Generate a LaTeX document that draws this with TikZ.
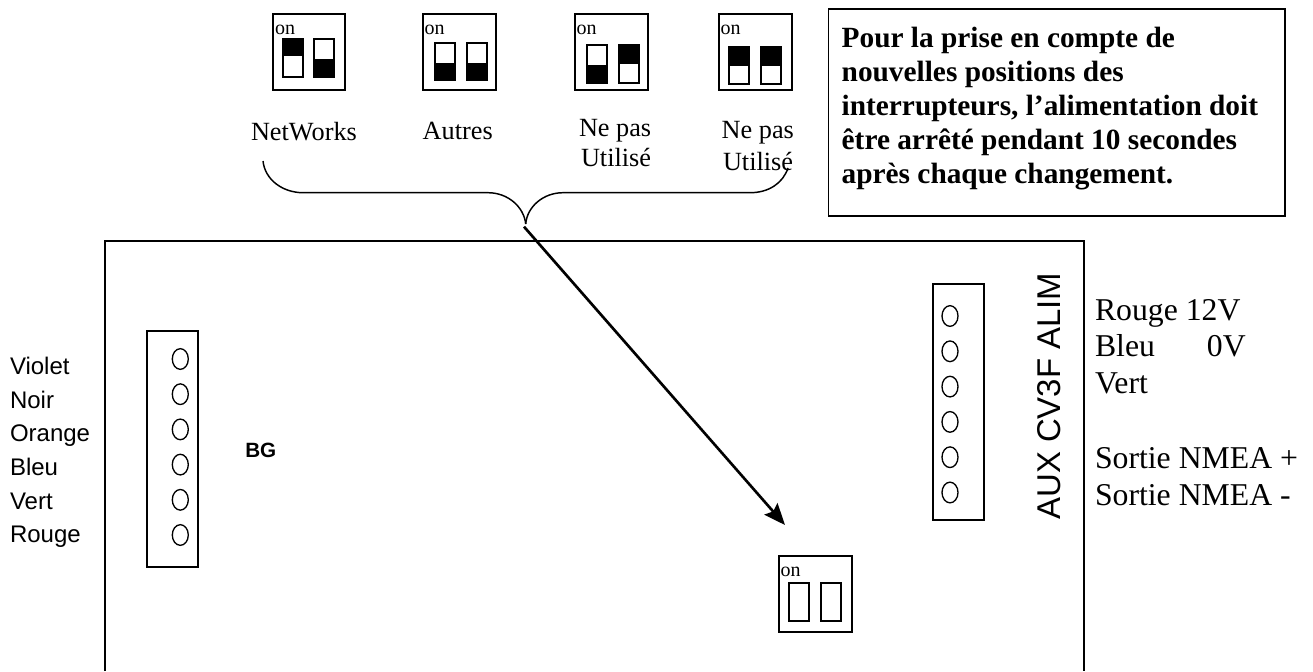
\documentclass[tikz,border=0pt]{standalone}
\usepackage{fontspec}
\setmainfont{Liberation Serif}
\setsansfont{Liberation Sans}
\usetikzlibrary{arrows.meta,shapes.geometric}
\tikzset{
  wire/.style={line width=1.1pt},
  frameline/.style={line width=1.3pt},
  txt/.style={anchor=base west,inner sep=0pt,outer sep=0pt,font=\fontsize{19.7}{24}\selectfont},
  ontxt/.style={anchor=base west,inner sep=0pt,outer sep=0pt,font=\fontsize{15}{18}\selectfont},
  wiretxt/.style={anchor=base west,inner sep=0pt,outer sep=0pt,font=\fontsize{23.8}{28}\selectfont},
  listtxt/.style={anchor=base west,inner sep=0pt,outer sep=0pt,font=\sffamily\fontsize{18}{22}\selectfont},
  notetxt/.style={anchor=base west,inner sep=0pt,outer sep=0pt,font=\bfseries\fontsize{22}{26}\selectfont},
  pin/.style={draw,line width=1pt,ellipse,minimum width=12pt,minimum height=15.5pt,inner sep=0pt}
}
% one switch: x left, y top, y bottom, y start and end of the black part
\newcommand{\slider}[5]{%
  \fill (#1,#4) rectangle (#1+20,#5);%
  \draw [frameline] (#1,#2) rectangle (#1+20,#3);%
}
\begin{document}
\begin{tikzpicture}[x=0.75pt,y=-0.75pt]
\useasboundingbox (0,0) rectangle (1313,671);

% Drawing the switch boxes on top
\draw [frameline] (272.7,14) rectangle (345,90);%
\node (on1) [ontxt] at (275,34) {on};%
\slider{282.7}{39}{76.7}{39}{56}%
\slider{314}{39}{76.7}{59}{76.7}%
\draw [frameline] (423,14) rectangle (496,90);%
\node (on2) [ontxt] at (424.5,34) {on};%
\slider{434.7}{43}{80}{63}{80}%
\slider{466.7}{43}{80}{63}{80}%
\draw [frameline] (575,14) rectangle (647.7,90);%
\node (on3) [ontxt] at (576.7,34) {on};%
\slider{586.7}{45}{82.7}{65}{82.7}%
\slider{618.7}{45}{82.7}{45}{64}%
\draw [frameline] (719,14) rectangle (791.7,90);%
\node (on4) [ontxt] at (720.7,34) {on};%
\slider{729}{47}{84}{47}{65.7}%
\slider{760.7}{47}{84}{47}{65.7}%

% Drawing the names of the positions
\node (networks) [txt] at (251,140) {NetWorks};%
\node (autres) [txt] at (422.7,139) {Autres};%
\node (nepasa) [txt] at (579,136.7) {Ne pas};%
\node (utilisea) [txt] at (581,166.7) {Utilisé};%
\node (nepasb) [txt] at (721.7,138) {Ne pas};%
\node (utiliseb) [txt] at (723,170) {Utilisé};%

% Drawing the brace
\coordinate (braceleft) at (263,161);%
\coordinate (braceright) at (788,168);%
\coordinate (bracetip) at (525.7,224);%
\coordinate (arrowstart) at (524,226.7);%
\coordinate (arrowend) at (785,525);%
\draw [wire] (braceleft) .. controls (265,180) and (283,192.7) .. (303,192.7) -- (488,192.7) .. controls (508,192.7) and (524,207) .. (bracetip);%
\draw [wire] (bracetip) .. controls (527,207) and (543,192.7) .. (563,192.7) -- (750,192.7) .. controls (769,192.7) and (783,183) .. (braceright);%

% Drawing the note
\draw [frameline] (828.5,9) rectangle (1285,216);%
\node (notea) [notetxt] at (841.7,47) {Pour la prise en compte de};%
\node (noteb) [notetxt] at (841.7,81) {nouvelles positions des};%
\node (notec) [notetxt] at (841.7,115) {interrupteurs, l’alimentation doit};%
\node (noted) [notetxt] at (841.7,149) {être arrêté pendant 10 secondes};%
\node (notee) [notetxt] at (841.7,183) {après chaque changement.};%

% Drawing the board
\draw [frameline] (105,671) -- (105,241) -- (1084,241) -- (1084,671);%
\node (bg) [anchor=base west,inner sep=0pt,font=\sffamily\bfseries\fontsize{15.5}{18}\selectfont] at (245,457) {BG};%
\draw [frameline] (146.7,331) rectangle (197.7,567);%
\draw [frameline] (932.7,284) rectangle (984,520);%
\foreach \n in {0,...,5} {%
  \node (leftpin\n) [pin] at (180.3,359+35.2*\n) {};%
  \node (rightpin\n) [pin] at (950,316+35.3*\n) {};%
}
\node (aux) [anchor=base west,inner sep=0pt,rotate=90,font=\sffamily\fontsize{24.7}{30}\selectfont] at (1060,520) {AUX CV3F ALIM};%

% Drawing the left wire names
\node (violet) [listtxt] at (10,374) {Violet};%
\node (noir) [listtxt] at (10,408) {Noir};%
\node (orange) [listtxt] at (10,441.7) {Orange};%
\node (bleul) [listtxt] at (10,475) {Bleu};%
\node (vertl) [listtxt] at (10,509) {Vert};%
\node (rougel) [listtxt] at (10,542.7) {Rouge};%

% Drawing the right wire names
\node (rouger) [wiretxt] at (1095,320) {Rouge 12V};%
\node (bleur) [wiretxt] at (1095,356.7) {Bleu\hspace{39pt}0V};%
\node (vertr) [wiretxt] at (1095,393) {Vert};%
\node (nmeap) [wiretxt] at (1095,468) {Sortie NMEA +};%
\node (nmeam) [wiretxt] at (1095,505) {Sortie NMEA -};%

% Drawing the switch box on the board
\draw [frameline] (779,555.7) rectangle (851.7,632);%
\node (on5) [ontxt] at (780.7,576.7) {on};%
\draw [frameline] (789,583) rectangle (809,621);%
\draw [frameline] (820.7,583) rectangle (841,621);%
\draw [line width=2pt,-{Stealth[length=16pt,width=13pt,inset=2.5pt]}] (arrowstart) -- (arrowend);%
\end{tikzpicture}
\end{document}
